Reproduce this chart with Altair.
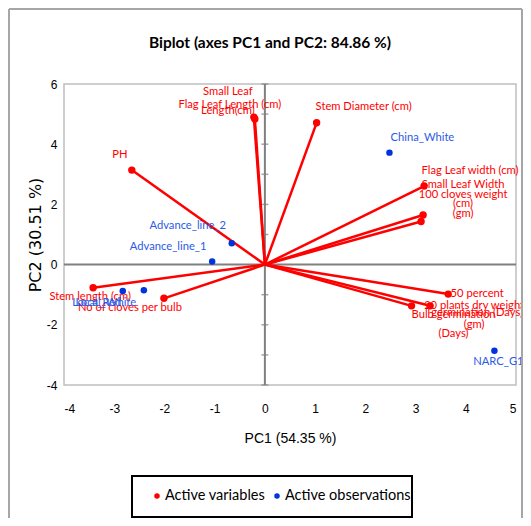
import altair as alt
import pandas as pd

TITLE = "Biplot (axes PC1 and PC2: 84.86 %)"
X_TITLE = "PC1 (54.35 %)"
Y_TITLE = "PC2 (30.51 %)"
X_TICKS = list(range(-4, 6))
Y_TICKS = list(range(-4, 7))

var_names = ["Flag Leaf Length (cm)", "Small Leaf Length(cm)", "Stem Diameter (cm)", "PH",
             "Flag Leaf width (cm)", "Small Leaf Width (cm)", "100 cloves weight (gm)",
             "Stem length (cm)", "No of cloves per bulb", "50 percent germination (Days)",
             "20 plants dry weight (gm)", "Bulb germination (Days)"]
var_pc1 = [-0.22, -0.20, 1.03, -2.65, 3.17, 3.15, 3.11, -3.42, -2.01, 3.65, 3.29, 2.92]
var_pc2 = [4.90, 4.84, 4.71, 3.14, 2.61, 1.65, 1.43, -0.77, -1.12, -0.98, -1.37, -1.37]

obs_names = ["China_White", "Advance_line_2", "Advance_line_1", "Local_Red", "Local_White", "NARC_G1"]
obs_pc1 = [2.48, -0.66, -1.05, -2.83, -2.41, 4.57]
obs_pc2 = [3.72, 0.71, 0.10, -0.88, -0.85, -2.86]

LEGEND = ["Active variables", "Active observations"]

# label layout (wrapped text, dx, dy of first line centre in px)
VAR_LABELS = {
    "Flag Leaf Length (cm)": ("Flag Leaf Length (cm)", -24, -12),
    "Small Leaf Length(cm)": ("Small Leaf\nLength(cm)", -27, -27),
    "Stem Diameter (cm)": ("Stem Diameter (cm)", 47, -16),
    "PH": ("PH", -12, -15),
    "Flag Leaf width (cm)": ("Flag Leaf width (cm)", 46, -15),
    "Small Leaf Width (cm)": ("Small Leaf Width\n(cm)", 40, -30),
    "100 cloves weight (gm)": ("100 cloves weight\n(gm)", 42, -27),
    "Stem length (cm)": ("Stem length (cm)", -3, 9),
    "No of cloves per bulb": ("No of cloves per bulb", -34, 10),
    "50 percent germination (Days)": ("50 percent\ngermination (Days)", 29, 0),
    "20 plants dry weight (gm)": ("20 plants dry weight\n(gm)", 44, 0),
    "Bulb germination (Days)": ("Bulb germination\n(Days)", 42, 9),
}
OBS_LABELS = {
    "China_White": (33, -15),
    "Advance_line_2": (-44, -17),
    "Advance_line_1": (-44, -15),
    "Local_Red": (-26, 12),
    "Local_White": (-38, 13),
    "NARC_G1": (4, 11),
}

RED = "#FF0000"
BLUE_PT = "#0033DD"
BLUE_TXT = "#2A5BE6"
LABEL_FONT = "Lato"
TICK_FONT = "Liberation Sans"
LH = 19
W, H = 452, 301

var_df = pd.DataFrame({"name": var_names, "pc1": var_pc1, "pc2": var_pc2})
obs_df = pd.DataFrame({"name": obs_names, "pc1": obs_pc1, "pc2": obs_pc2})
one = pd.DataFrame({"a": [0]})
ytick_df = pd.DataFrame({"v": Y_TICKS})

xs = alt.Scale(domain=[-4, 5], nice=False, zero=False)
ys = alt.Scale(domain=[-4, 6], nice=False, zero=False)

axes_layer = alt.Chart(obs_df).mark_point(opacity=0).encode(
    x=alt.X("pc1:Q", scale=xs, axis=alt.Axis(
        values=X_TICKS, title=X_TITLE, grid=False, domain=False, ticks=False, tickSize=0,
        labelPadding=18, labelFont=TICK_FONT, labelFontSize=12, labelColor="#000",
        labelExpr="replace(datum.label, '\u2212', '-')",
        titleFont="Liberation Sans", titleFontSize=14, titleFontWeight="normal", titleColor="#000",
        titleX=W / 2, titleY=53, titleAlign="center", titleBaseline="middle")),
    y=alt.Y("pc2:Q", scale=ys, axis=alt.Axis(
        values=Y_TICKS, title=Y_TITLE, grid=False, domain=False, ticks=False, tickSize=0,
        labelPadding=7, labelFont=TICK_FONT, labelFontSize=12, labelColor="#000",
        labelExpr="replace(datum.label, '\u2212', '-')",
        titleFont="DejaVu Sans", titleFontSize=16, titleFontWeight="normal", titleColor="#000",
        titleX=-29, titleY=H / 2, titleAngle=-90, titleAlign="center", titleBaseline="middle")),
)

zero_v = alt.Chart(one).mark_rule(color="#808080", strokeWidth=2).encode(x=alt.datum(0))
zero_h = alt.Chart(one).mark_rule(color="#808080", strokeWidth=2).encode(y=alt.datum(0))
zero_ticks = alt.Chart(ytick_df).mark_tick(orient="horizontal", size=7, thickness=1.5,
                                           color="#808080").encode(
    x=alt.datum(0), y=alt.Y("v:Q"))

vec = alt.Chart(var_df).mark_rule(color=RED, strokeWidth=2.5).encode(
    x="pc1:Q", y="pc2:Q", x2=alt.datum(0), y2=alt.datum(0))
var_pts = alt.Chart(var_df).mark_circle(size=55, color=RED, opacity=1).encode(
    x="pc1:Q", y="pc2:Q")
obs_pts = alt.Chart(obs_df).mark_circle(size=42, color=BLUE_PT, opacity=1).encode(
    x="pc1:Q", y="pc2:Q")

layers = [axes_layer, zero_h, zero_v, zero_ticks, vec, var_pts, obs_pts]

for name, (txt, dx, dy) in VAR_LABELS.items():
    layers.append(
        alt.Chart(var_df).transform_filter(alt.datum.name == name).mark_text(
            text=txt, lineBreak="\n", lineHeight=LH, font=LABEL_FONT, fontSize=11.2, color=RED,
            align="center", baseline="middle", dx=dx, dy=dy
        ).encode(x="pc1:Q", y="pc2:Q")
    )
for name, (dx, dy) in OBS_LABELS.items():
    layers.append(
        alt.Chart(obs_df).transform_filter(alt.datum.name == name).mark_text(
            font=LABEL_FONT, fontSize=11.2, color=BLUE_TXT, align="center", baseline="middle",
            dx=dx, dy=dy
        ).encode(x="pc1:Q", y="pc2:Q", text="name:N")
    )

# title
layers.append(alt.Chart(one).mark_text(text=TITLE, font="Lato", fontSize=15.5, fontWeight="bold",
                                       color="#000", align="center", baseline="middle").encode(
    x=alt.value(206), y=alt.value(-41)))

# legend
layers.append(alt.Chart(one).mark_rect(fill="white", stroke="#000", strokeWidth=2).encode(
    x=alt.value(68), x2=alt.value(348), y=alt.value(392), y2=alt.value(433)))
leg_df = pd.DataFrame({"label": LEGEND, "color": [RED, BLUE_PT], "px": [93, 213]})
layers.append(alt.Chart(leg_df).mark_circle(size=30, opacity=1).encode(
    x=alt.X("px:Q", scale=None), y=alt.value(412),
    color=alt.Color("color:N", scale=None)))
layers.append(alt.Chart(leg_df).mark_text(font="Lato", fontSize=14.5, color="#000", align="left",
                                          baseline="middle", dx=8).encode(
    x=alt.X("px:Q", scale=None), y=alt.value(412), text="label:N"))

# outer border
border = "#A6A6A6"
layers.append(alt.Chart(one).mark_rule(color=border, strokeWidth=2).encode(
    x=alt.value(-55), y=alt.value(-75), y2=alt.value(H + 140)))
layers.append(alt.Chart(one).mark_rule(color=border, strokeWidth=2).encode(
    x=alt.value(-55), x2=alt.value(W + 6), y=alt.value(-75)))
layers.append(alt.Chart(one).mark_rule(color=border, strokeWidth=2).encode(
    x=alt.value(W + 6), y=alt.value(-75), y2=alt.value(H + 140)))

chart = alt.layer(*layers).properties(
    width=W, height=H,
    autosize=alt.AutoSizeParams(type="none"),
    padding={"left": 56, "top": 76, "right": 7, "bottom": 133},
).configure_view(stroke="#BFBFBF", strokeWidth=1.5)

chart.save("out.html", embed_options={"renderer": "svg", "actions": False})
